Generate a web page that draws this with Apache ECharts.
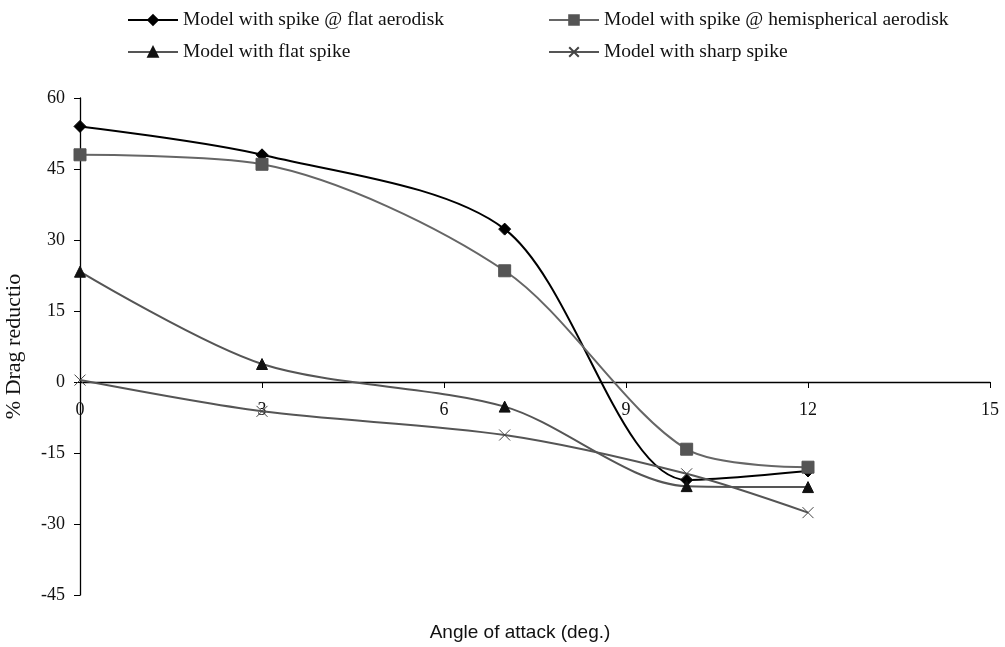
<!DOCTYPE html>
<html>
<head>
<meta charset="utf-8">
<script src="https://cdn.jsdelivr.net/npm/echarts@6/dist/echarts.min.js"></script>
<style>
html, body { margin: 0; padding: 0; background: #fff; }
#main { width: 1005px; height: 647px; }
</style>
</head>
<body>
<div id="main"></div>
<script>
var angles = [0, 3, 7, 10, 12];
var flatAerodisk = [54, 48, 32.3, -20.7, -18.8];
var hemiAerodisk = [48, 46, 23.5, -14.2, -18];
var flatSpike = [23.3, 3.8, -5.2, -22, -22.2];
var sharpSpike = [0.4, -6.2, -11.2, -19.4, -27.6];
var xTicks = { min: 0, max: 15, step: 3 };
var yTicks = { min: -45, max: 60, step: 15 };

function pairs(vals) {
    return angles.map(function (a, i) { return [a, vals[i]]; });
}

var serif = 'Liberation Serif';
var myChart = echarts.init(document.getElementById('main'));

function line(name, vals, color, symbol, symColor, size) {
    return {
        name: name,
        type: 'line',
        smooth: 0.3,
        data: pairs(vals),
        symbol: symbol,
        symbolSize: size,
        lineStyle: { color: color, width: 2 },
        itemStyle: { color: symColor, borderColor: symColor, borderWidth: 1 }
    };
}

var crossPath = 'path://M0,0 L10,10 M10,0 L0,10';

// the x axis sits on y = 0, which is 213px above the grid bottom
var gridTop = 98, gridBottom = 52, plotH = 647 - gridTop - gridBottom;
var zeroOffset = -plotH * (0 - yTicks.min) / (yTicks.max - yTicks.min);

var option = {
    animation: false,
    title: {
        text: 'Angle of attack (deg.)',
        left: 515,
        top: 618,
        textAlign: 'center',
        textStyle: { fontFamily: 'Liberation Sans', fontSize: 19, fontWeight: 'normal', color: '#111' }
    },
    legend: [{
        data: ['Model with spike @ flat aerodisk', 'Model with flat spike'],
        orient: 'vertical',
        left: 122,
        top: 5,
        itemGap: 12,
        itemWidth: 50,
        itemHeight: 12,
        textStyle: { fontFamily: serif, fontSize: 19.5, color: '#111' }
    }, {
        data: ['Model with spike @ hemispherical aerodisk', 'Model with sharp spike'],
        orient: 'vertical',
        left: 543,
        top: 5,
        itemGap: 12,
        itemWidth: 50,
        itemHeight: 12,
        textStyle: { fontFamily: serif, fontSize: 19.5, color: '#111' }
    }],
    grid: { left: 80, right: 15, top: gridTop, bottom: gridBottom, outerBoundsMode: 'none' },
    xAxis: {
        type: 'value',
        min: xTicks.min,
        max: xTicks.max,
        interval: xTicks.step,
        position: 'bottom',
        offset: zeroOffset,
        axisLine: { onZero: false, lineStyle: { color: '#000', width: 1.3 } },
        axisTick: { show: true, inside: false, length: 6, lineStyle: { color: '#000' } },
        axisLabel: { fontFamily: serif, fontSize: 18, color: '#111', margin: 19 },
        splitLine: { show: false }
    },
    yAxis: {
        type: 'value',
        min: yTicks.min,
        max: yTicks.max,
        interval: yTicks.step,
        name: '% Drag reductio',
        nameLocation: 'middle',
        nameGap: 55,
        nameTextStyle: { fontFamily: serif, fontSize: 22, color: '#111' },
        axisLine: { show: true, onZero: false, lineStyle: { color: '#000', width: 1.3 } },
        axisTick: { show: true, inside: false, length: 6, lineStyle: { color: '#000' } },
        axisLabel: { fontFamily: serif, fontSize: 18, color: '#111', margin: 15 },
        splitLine: { show: false }
    },
    series: [
        line('Model with spike @ flat aerodisk', flatAerodisk, '#000', 'diamond', '#000', 12),
        line('Model with spike @ hemispherical aerodisk', hemiAerodisk, '#666', 'rect', '#555', 12),
        line('Model with flat spike', flatSpike, '#555', 'triangle', '#111', 11),
        line('Model with sharp spike', sharpSpike, '#555', crossPath, '#444', 11)
    ]
};
myChart.setOption(option);
</script>
</body>
</html>
